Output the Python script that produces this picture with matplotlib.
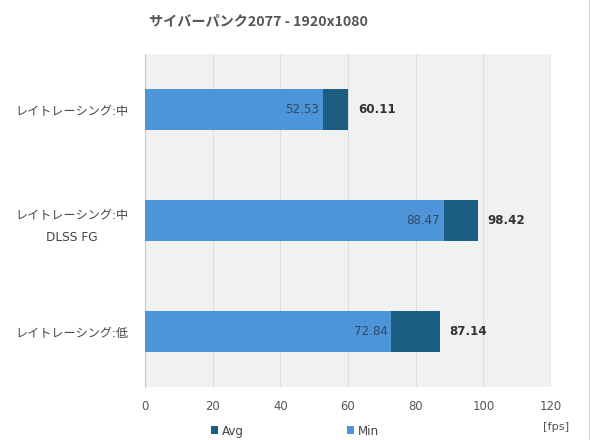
import matplotlib.pyplot as plt
from matplotlib.lines import Line2D

plt.rcParams['font.family'] = ['DejaVu Sans', 'Noto Sans CJK JP']

categories = ['レイトレーシング:中', 'レイトレーシング:中\nDLSS FG', 'レイトレーシング:低']
avg_fps = [60.11, 98.42, 87.14]
min_fps = [52.53, 88.47, 72.84]
x_ticks = [0, 20, 40, 60, 80, 100, 120]

avg_color = '#1b5e82'
min_color = '#4e94d8'

fig = plt.figure(figsize=(5.9, 4.4), dpi=100)
ax = fig.add_axes([145 / 590, 1 - 387 / 440, (551 - 145) / 590, (387 - 54) / 440])
ax.set_facecolor('#f1f1f1')

pos = list(range(len(categories)))
ax.barh(pos, avg_fps, height=0.37, color=avg_color, label='Avg', zorder=2)
ax.barh(pos, min_fps, height=0.37, color=min_color, label='Min', zorder=3)

for p, a, m in zip(pos, avg_fps, min_fps):
    ax.text(m - 1.2, p, '%.2f' % m, ha='right', va='center', fontsize=8.6,
            color='#2f4a66', zorder=4)
    ax.text(a + 2.8, p, '%.2f' % a, ha='left', va='center', fontsize=8.6,
            fontweight='bold', color='#333333', zorder=4)

ax.set_xlim(0, 120)
ax.set_ylim(2.5, -0.5)
ax.set_xticks(x_ticks)
ax.set_yticks(pos)
ax.set_yticklabels(categories, fontsize=8.7, color='#444444',
                   multialignment='center', linespacing=1.9)
ax.tick_params(axis='x', labelsize=8.4, colors='#555555', length=0, pad=9)
ax.tick_params(axis='y', length=0, pad=12)
ax.grid(axis='x', color='#dedede', linewidth=0.8, zorder=0)
ax.set_axisbelow(True)
for s in ['top', 'right', 'bottom']:
    ax.spines[s].set_visible(False)
ax.spines['left'].set_color('#c8c8c8')

fig.text(258.5 / 590, 1 - 21 / 440, 'サイバーパンク2077 - 1920x1080', ha='center', va='center',
         fontsize=10.2, fontweight='bold', color='#555555',
         family=['Noto Sans CJK JP', 'DejaVu Sans'])
fig.text(556 / 590, 1 - 427 / 440, '[fps]', ha='center', va='center',
         fontsize=8.2, color='#555555')

# thin frame line at right edge
fig.add_artist(Line2D([588.5 / 590, 588.5 / 590], [0, 1], color='#d0d0d0', linewidth=0.8))

handles, labels = ax.get_legend_handles_labels()
fig.legend(handles, labels, loc='center', bbox_to_anchor=(295 / 590, 1 - 431 / 440),
           ncol=2, frameon=False, fontsize=8.6, handlelength=0.6, handleheight=0.6,
           handletextpad=0.3, columnspacing=8.65, labelcolor='#444444')

fig.savefig('out.png', dpi=100)
